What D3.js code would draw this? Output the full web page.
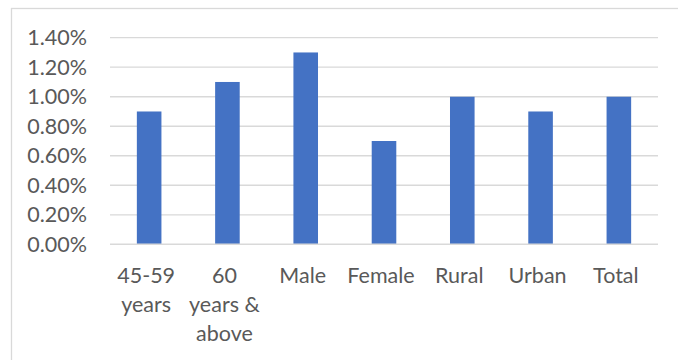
<!DOCTYPE html>
<html>
<head>
<meta charset="utf-8">
<script src="https://cdn.jsdelivr.net/npm/d3@7"></script>
<style>
  html, body { margin: 0; padding: 0; background: #fff; }
  svg { display: block; }
  text { font-family: Lato, "Open Sans", sans-serif; fill: #595959; }
</style>
</head>
<body>
<svg id="chart" width="678" height="360"></svg>
<script>
// Share of respondents by group
const categories = ["45-59 years", "60 years & above", "Male", "Female", "Rural", "Urban", "Total"];
const values = [0.009, 0.011, 0.013, 0.007, 0.010, 0.009, 0.010];
const yTicks = [0, 0.002, 0.004, 0.006, 0.008, 0.010, 0.012, 0.014];

const plot = { left: 110, right: 658, top: 37.7, bottom: 244.3 };
const fontSize = 21.5;

const svg = d3.select("#chart");

// chart frame (runs off the right and bottom edges)
svg.append("rect")
  .attr("x", 11.5).attr("y", 8.5)
  .attr("width", 800).attr("height", 500)
  .attr("fill", "none")
  .attr("stroke", "#d9d9d9")
  .attr("stroke-width", 1.3);

const x = d3.scaleBand()
  .domain(categories)
  .range([plot.left, plot.right])
  .paddingInner(0.686)
  .paddingOuter(0.343);

const y = d3.scaleLinear()
  .domain([0, 0.014])
  .range([plot.bottom, plot.top]);

// horizontal gridlines
svg.append("g")
  .selectAll("line")
  .data(yTicks.slice(1))
  .join("line")
  .attr("x1", plot.left).attr("x2", plot.right)
  .attr("y1", d => y(d)).attr("y2", d => y(d))
  .attr("stroke", "#d9d9d9")
  .attr("stroke-width", 1.3);

// y-axis labels
const yAxis = d3.axisLeft(y)
  .tickValues(yTicks)
  .tickFormat(d3.format(".2%"))
  .tickSize(0)
  .tickPadding(23);

const gy = svg.append("g")
  .attr("transform", `translate(${plot.left},0)`)
  .call(yAxis);
gy.select(".domain").remove();
gy.selectAll("text")
  .attr("font-size", fontSize)
  .attr("font-family", null)
  .attr("fill", null)
  .attr("dy", "0.32em");

// bars
svg.append("g")
  .selectAll("rect")
  .data(values)
  .join("rect")
  .attr("x", (d, i) => x(categories[i]))
  .attr("width", x.bandwidth())
  .attr("y", d => y(d))
  .attr("height", d => y(0) - y(d))
  .attr("fill", "#4472c4");

// category axis
const xAxis = d3.axisBottom(x).tickSize(0).tickPadding(0);
const gx = svg.append("g")
  .attr("transform", `translate(0,${plot.bottom})`)
  .call(xAxis);
gx.select(".domain")
  .attr("stroke", "#d9d9d9")
  .attr("stroke-width", 1.6)
  .attr("d", `M${plot.left},0H${plot.right}`);
gx.selectAll(".tick text").remove();

// wrapped category labels
const maxW = 75;
const lineH = 29;
gx.selectAll(".tick").each(function(d) {
  const g = d3.select(this);
  const t = g.append("text")
    .attr("text-anchor", "middle")
    .attr("font-size", fontSize)
    .attr("x", -3)
    .attr("y", 39);
  const words = d.split(" ");
  let line = [];
  let tspan = t.append("tspan").attr("x", -3).attr("dy", 0);
  words.forEach(w => {
    line.push(w);
    tspan.text(line.join(" "));
    if (tspan.node().getComputedTextLength() > maxW && line.length > 1) {
      line.pop();
      tspan.text(line.join(" "));
      line = [w];
      tspan = t.append("tspan").attr("x", -3).attr("dy", lineH).text(w);
    }
  });
});
</script>
</body>
</html>
